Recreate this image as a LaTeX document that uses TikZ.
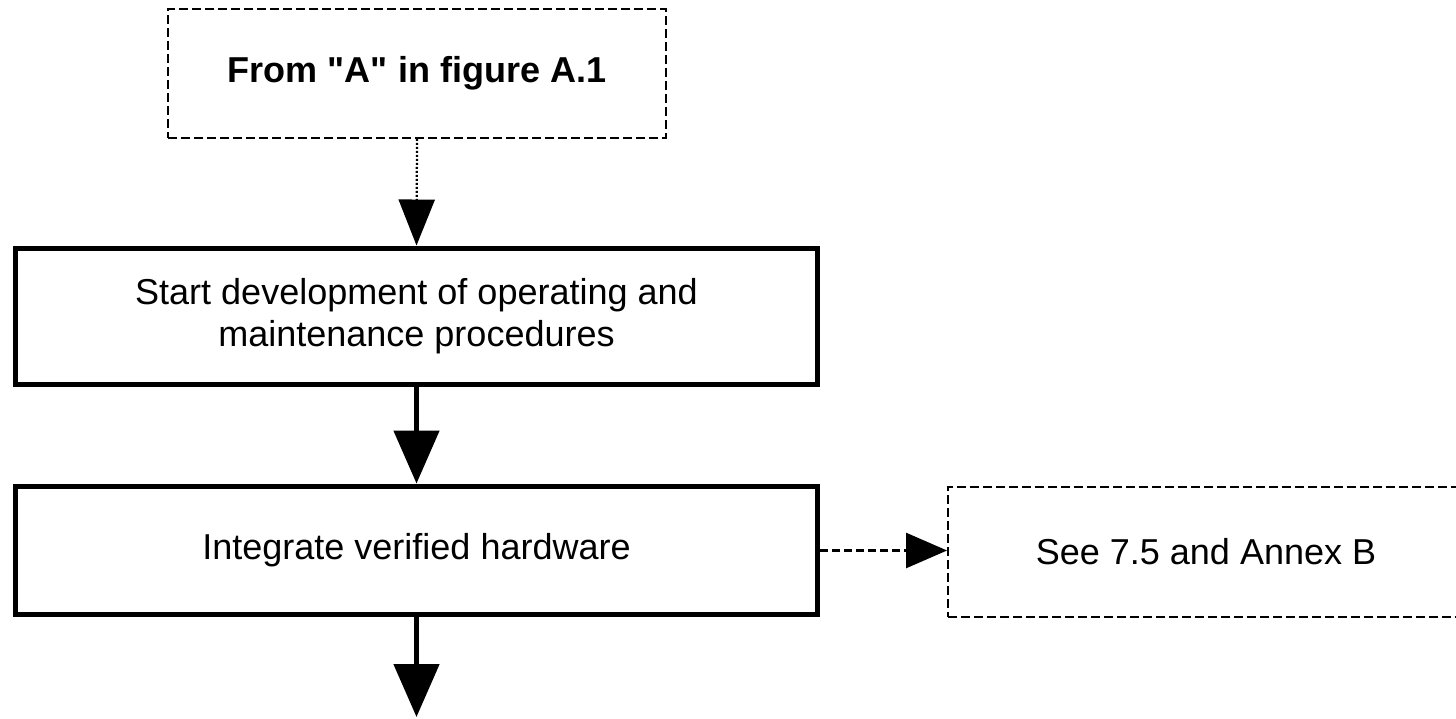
\documentclass[tikz,border=0pt]{standalone}
\usepackage{fontspec}
\setmainfont{Liberation Sans}[Ligatures=TeXOff]
\usetikzlibrary{arrows.meta}

\begin{document}
\begin{tikzpicture}[x=0.02cm,y=-0.02cm,
    every node/.style={font=\fontsize{20.5}{24}\selectfont, align=center, inner sep=0pt},
    procbox/.style={draw, line width=0.1cm, rectangle, minimum width=16.06cm},
    refbox/.style={draw, line width=0.04cm, rectangle, dash pattern=on 0.18cm off 0.08cm},
    flowarrow/.style={line width=0.1cm, -{Triangle[length=1.06cm,width=0.9cm]}}
  ]
    \useasboundingbox (0,0) rectangle (1456,719);

    \node[refbox, minimum width=9.96cm, minimum height=2.58cm, font=\fontsize{20.5}{24}\selectfont\bfseries]
        (froma) at (417,73.5) {From "A" in figure A.1};
    \node[procbox, minimum height=2.74cm] (startdev) at (416.5,316.5)
        {Start development of operating and\\maintenance procedures};
    \node[procbox, minimum height=2.58cm] (integrate) at (416.5,550.5)
        {Integrate verified hardware};
    \node[refbox, minimum width=10.32cm, minimum height=2.6cm] (seeref) at (1206,552)
        {See 7.5 and Annex B};
    \coordinate (next) at (416.5,717);

    \draw[line width=0.045cm, dash pattern=on 0.04cm off 0.04cm, -{Triangle[length=0.92cm,width=0.72cm]}]
        (froma.south) -- (startdev.north);
    \draw[flowarrow] (startdev.south) -- (integrate.north);
    \draw[flowarrow] (integrate.south) -- (next);
    \draw[line width=0.05cm, dash pattern=on 0.16cm off 0.08cm, -{Triangle[length=0.82cm,width=0.7cm]}]
        (integrate.east) -- (integrate.east -| seeref.west);
\end{tikzpicture}
\end{document}
